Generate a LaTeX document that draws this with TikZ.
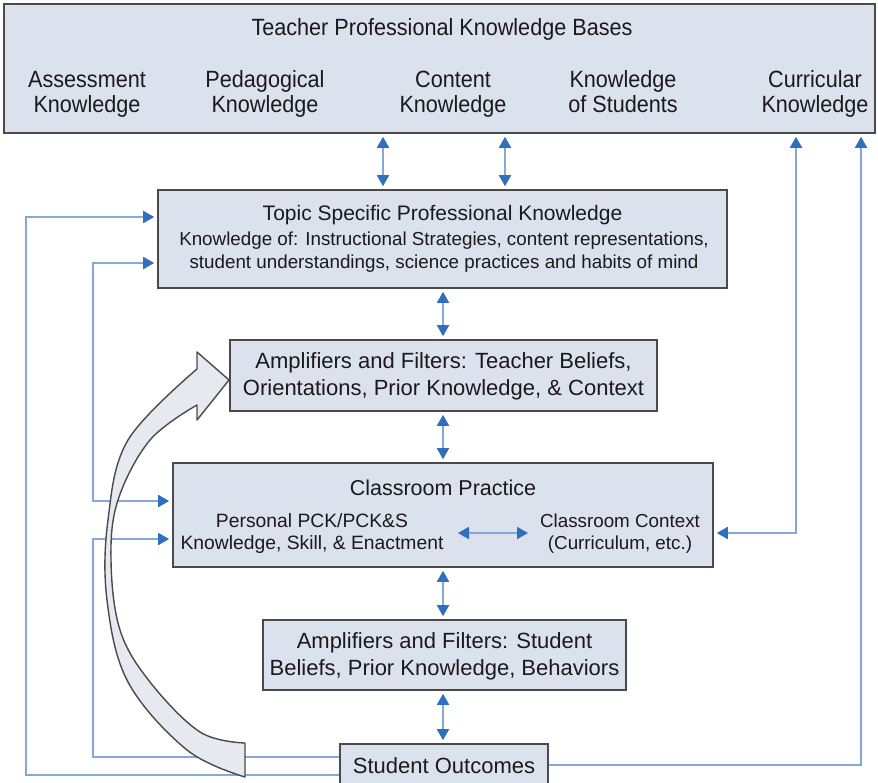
\documentclass[tikz,border=0pt]{standalone}
\usepackage{fontspec}
\setmainfont{Liberation Sans}
\newfontfamily\narrowfam{Liberation Sans}[FakeStretch=0.92]
\usetikzlibrary{arrows.meta}
\definecolor{boxfill}{HTML}{DCE1EE}
\definecolor{boxline}{HTML}{4A4A4A}
\definecolor{linecol}{HTML}{86A8D6}
\definecolor{tipcol}{HTML}{2F6FBE}
\definecolor{txt}{HTML}{1A1A1A}
\definecolor{bigfill}{HTML}{E6E9F0}
\tikzset{
  box/.style={draw=boxline, fill=boxfill, line width=1.6pt, inner sep=0pt},
  conn/.style={draw=linecol, line width=1.8pt, >={Triangle[length=11pt,width=12pt,color=tipcol]}},
  vconn/.style={conn, shorten <=3pt, shorten >=3pt},
  tbig/.style={text=txt, font=\fontsize{21}{24}\selectfont, align=center, inner sep=0pt},
  tmid/.style={text=txt, font=\fontsize{18.8}{23}\selectfont, align=center, inner sep=0pt},
  tamp/.style={text=txt, font=\fontsize{22}{27}\selectfont, align=center, inner sep=0pt},
  ttop/.style={text=txt, font=\narrowfam\fontsize{23.5}{25}\selectfont, align=center, inner sep=0pt},
  tcls/.style={text=txt, font=\fontsize{19.3}{22}\selectfont, align=center, inner sep=0pt},
}
\begin{document}
\begin{tikzpicture}[x=1pt,y=-1pt]
\useasboundingbox (0,0) rectangle (878,782);

% boxes
\node[box, minimum width=871pt, minimum height=129pt] (top) at (439.5,68.5) {};
\node[box, minimum width=569pt, minimum height=98pt] (topic) at (442.5,239) {};
\node[box, minimum width=427pt, minimum height=71pt] (ampT) at (443.5,375.5) {};
\node[box, minimum width=540pt, minimum height=104pt] (class) at (443,515) {};
\node[box, minimum width=363pt, minimum height=70pt] (ampS) at (444.5,655) {};
\node[box, minimum width=208pt, minimum height=48pt] (out) at (444,768) {};

% texts
\node[ttop] (tTitle) at (442,29) {Teacher Professional Knowledge Bases};
\node[ttop] (tA) at (87,94) {Assessment\\Knowledge};
\node[ttop] (tP) at (265,94) {Pedagogical\\Knowledge};
\node[ttop] (tC) at (453,94) {Content\\Knowledge};
\node[ttop] (tS) at (623,94) {Knowledge\\of Students\vphantom{g}};
\node[ttop] (tK) at (815,94) {Curricular\\Knowledge};

\node[tbig] (topicT) at (442.5,215) {Topic Specific Professional Knowledge};
\node[tmid] (topicL) at (444,252) {Knowledge of: Instructional Strategies, content representations,\\student understandings, science practices and habits of mind};

\node[tamp] (ampTT) at (443.5,376.5) {Amplifiers and Filters: Teacher Beliefs,\\Orientations, Prior Knowledge, \& Context};

\node[tcls, font=\fontsize{21.5}{24}\selectfont] (clsT) at (443,488) {Classroom Practice};
\node[tcls] (pers) at (312,534) {Personal PCK/PCK\&S\\Knowledge, Skill, \& Enactment};
\node[tcls, font=\fontsize{18.8}{22}\selectfont] (ctx) at (620,534) {Classroom Context\\(Curriculum, etc.)};

\node[tamp] (ampSS) at (444.5,656) {Amplifiers and Filters: Student\\Beliefs, Prior Knowledge, Behaviors};
\node[tamp] (outT) at (444,766) {Student Outcomes};

% coordinates
\coordinate (ha) at (458,533);
\coordinate (hb) at (528,533);

% vertical double arrows
\draw[vconn,<->] (383,0 |- top.south) -- (383,0 |- topic.north);
\draw[vconn,<->] (505,0 |- top.south) -- (505,0 |- topic.north);
\draw[vconn,<->] (443,0 |- topic.south) -- (443,0 |- ampT.north);
\draw[vconn,<->] (443,0 |- ampT.south) -- (443,0 |- class.north);
\draw[vconn,<->] (443,0 |- class.south) -- (443,0 |- ampS.north);
\draw[vconn,<->] (443,0 |- ampS.south) -- (443,0 |- out.north);

% inner horizontal
\draw[conn,<->] (ha) -- (hb);

% right side
\draw[conn,<->,shorten <=3pt,shorten >=3pt] (796,0 |- top.south) -- (796,533) -- (class.east |- 0,533);
\draw[conn,->,shorten >=3pt] (out.east |- 0,765) -- (861,765) -- (861,0 |- top.south);

% left side
\draw[conn,->,shorten >=3pt] (out.west |- 0,775) -- (26,775) -- (26,217) -- (topic.west |- 0,217);
\draw[conn,<->,shorten <=3pt,shorten >=3pt] (topic.west |- 0,263) -- (93,263) -- (93,501) -- (class.west |- 0,501);
\draw[conn,->,shorten >=3pt] (out.west |- 0,757) -- (93,757) -- (93,539) -- (class.west |- 0,539);

% big curved arrow
\filldraw[draw=boxline, fill=bigfill, line width=1.4pt, line join=round]
  (197,369) -- (197,352) -- (229,380) -- (197,420) -- (197,405)
  -- plot[smooth, tension=0.6] coordinates {(197,405) (150,440) (118,500) (111,560) (120,630) (150,682) (200,732) (245,743)}
  -- (245,777)
  -- plot[smooth, tension=0.6] coordinates {(245,777) (187,750) (128,682) (107,600) (108,520) (128,440) (197,369)}
  -- cycle;
\end{tikzpicture}
\end{document}
